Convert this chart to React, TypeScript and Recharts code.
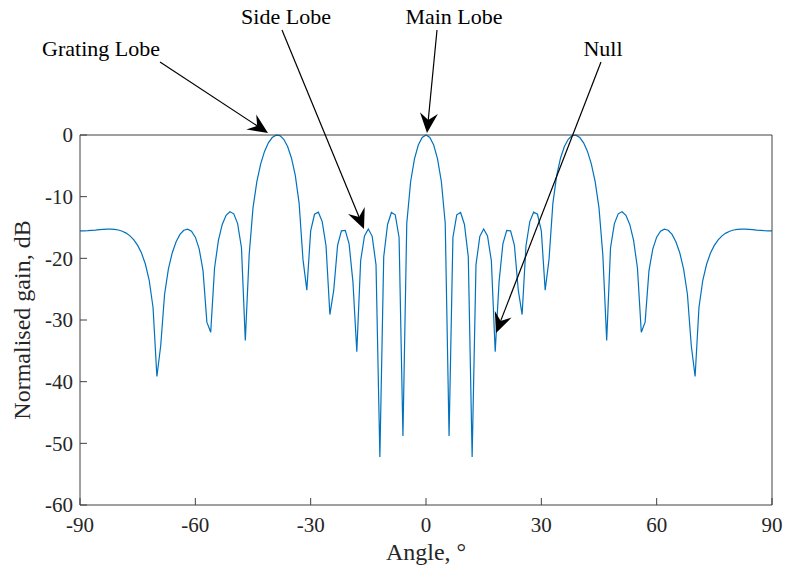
import { LineChart, Line, XAxis, YAxis } from "recharts";

// sampled every degree, -90 .. 90
const angles = [
  -90, -89, -88, -87, -86, -85, -84, -83, -82, -81,
  -80, -79, -78, -77, -76, -75, -74, -73, -72, -71,
  -70, -69, -68, -67, -66, -65, -64, -63, -62, -61,
  -60, -59, -58, -57, -56, -55, -54, -53, -52, -51,
  -50, -49, -48, -47, -46, -45, -44, -43, -42, -41,
  -40, -39, -38, -37, -36, -35, -34, -33, -32, -31,
  -30, -29, -28, -27, -26, -25, -24, -23, -22, -21,
  -20, -19, -18, -17, -16, -15, -14, -13, -12, -11,
  -10, -9, -8, -7, -6, -5, -4, -3, -2, -1,
  0, 1, 2, 3, 4, 5, 6, 7, 8, 9,
  10, 11, 12, 13, 14, 15, 16, 17, 18, 19,
  20, 21, 22, 23, 24, 25, 26, 27, 28, 29,
  30, 31, 32, 33, 34, 35, 36, 37, 38, 39,
  40, 41, 42, 43, 44, 45, 46, 47, 48, 49,
  50, 51, 52, 53, 54, 55, 56, 57, 58, 59,
  60, 61, 62, 63, 64, 65, 66, 67, 68, 69,
  70, 71, 72, 73, 74, 75, 76, 77, 78, 79,
  80, 81, 82, 83, 84, 85, 86, 87, 88, 89,
  90,
];

const gainDb = [
  -15.56, -15.55, -15.52, -15.47, -15.42, -15.35, -15.3, -15.26, -15.26, -15.3,
  -15.41, -15.6, -15.91, -16.36, -17.01, -17.9, -19.15, -20.92, -23.56, -27.97,
  -39.16, -34.13, -25.83, -21.72, -19.09, -17.31, -16.12, -15.45, -15.26, -15.59,
  -16.57, -18.46, -22.0, -30.35, -31.98, -21.57, -17.1, -14.5, -13.02, -12.44,
  -12.78, -14.37, -18.28, -33.33, -19.45, -11.82, -7.55, -4.68, -2.66, -1.27,
  -0.41, -0.02, -0.11, -0.7, -1.86, -3.72, -6.56, -11.09, -20.17, -25.16,
  -15.56, -12.85, -12.52, -14.04, -18.0, -29.12, -25.15, -17.91, -15.54, -15.48,
  -17.66, -23.86, -35.15, -20.39, -16.36, -15.25, -16.43, -21.06, -52.22, -19.77,
  -14.51, -12.56, -12.95, -16.62, -48.81, -14.3, -7.58, -3.86, -1.62, -0.39,
  0, -0.39, -1.62, -3.86, -7.58, -14.3, -48.81, -16.62, -12.95, -12.56,
  -14.51, -19.77, -52.22, -21.06, -16.43, -15.25, -16.36, -20.39, -35.15, -23.86,
  -17.66, -15.48, -15.54, -17.91, -25.15, -29.12, -18.0, -14.04, -12.52, -12.85,
  -15.56, -25.16, -20.17, -11.09, -6.56, -3.72, -1.86, -0.7, -0.11, -0.02,
  -0.41, -1.27, -2.66, -4.68, -7.55, -11.82, -19.45, -33.33, -18.28, -14.37,
  -12.78, -12.44, -13.02, -14.5, -17.1, -21.57, -31.98, -30.35, -22.0, -18.46,
  -16.57, -15.59, -15.26, -15.45, -16.12, -17.31, -19.09, -21.72, -25.83, -34.13,
  -39.16, -27.97, -23.56, -20.92, -19.15, -17.9, -17.01, -16.36, -15.91, -15.6,
  -15.41, -15.3, -15.26, -15.26, -15.3, -15.35, -15.42, -15.47, -15.52, -15.55,
  -15.56,
];

const xTicks = [-90, -60, -30, 0, 30, 60, 90];
const yTicks = [-60, -50, -40, -30, -20, -10, 0];

// text callouts, figure pixels (tail -> tip)
const notes = [
  { text: "Grating Lobe", tx: 101, ty: 56, x1: 160, y1: 62, x2: 268, y2: 133 },
  { text: "Side Lobe", tx: 286, ty: 24, x1: 282, y1: 30, x2: 364, y2: 229 },
  { text: "Main Lobe", tx: 454, ty: 24, x1: 437, y1: 30, x2: 427, y2: 133 },
  { text: "Null", tx: 603, ty: 56, x1: 601, y1: 62, x2: 496, y2: 333 },
];

const rows = angles.map((a, i) => ({ angle: a, gain: gainDb[i] }));

const FONT = "'Liberation Serif', 'Times New Roman', serif";
const AXIS = "#404040";

function Arrow({ x1, y1, x2, y2 }: { x1: number; y1: number; x2: number; y2: number }) {
  const len = Math.hypot(x2 - x1, y2 - y1);
  const ux = (x2 - x1) / len;
  const uy = (y2 - y1) / len;
  const L = 20;
  const W = 9;
  const bx = x2 - ux * L;
  const by = y2 - uy * L;
  const nx = x2 - ux * L * 0.65;
  const ny = y2 - uy * L * 0.65;
  const pts = [
    [x2, y2],
    [bx - uy * W, by + ux * W],
    [nx, ny],
    [bx + uy * W, by - ux * W],
  ]
    .map((p) => p.join(","))
    .join(" ");
  return (
    <g>
      <line x1={x1} y1={y1} x2={nx} y2={ny} stroke="#000" strokeWidth={1.2} />
      <polygon points={pts} fill="#000" />
    </g>
  );
}

export default function App() {
  return (
    <div style={{ position: "absolute", left: 0, top: 0, width: 786, height: 569, background: "#fff" }}>
      <LineChart
        width={786}
        height={569}
        data={rows}
        margin={{ top: 134, right: 0, bottom: 0, left: 0 }}
        style={{ fontFamily: FONT }}
      >
        <XAxis
          xAxisId="b"
          dataKey="angle"
          type="number"
          domain={[-90, 90]}
          ticks={xTicks}
          height={64}
          tickSize={-7}
          tickMargin={19}
          stroke={AXIS}
          tick={{ fill: "#262626", fontSize: 21, fontFamily: FONT }}
          label={{ value: "Angle, °", position: "center", dy: 14, fill: "#262626", fontSize: 24, fontFamily: FONT }}
        />
        <XAxis
          xAxisId="t"
          orientation="top"
          dataKey="angle"
          type="number"
          domain={[-90, 90]}
          ticks={xTicks}
          height={1}
          tickSize={-7}
          tick={false}
          stroke={AXIS}
        />
        <YAxis
          yAxisId="l"
          type="number"
          domain={[-60, 0]}
          ticks={yTicks}
          width={80}
          tickSize={-7}
          tickMargin={14}
          stroke={AXIS}
          tick={{ fill: "#262626", fontSize: 21, fontFamily: FONT }}
          label={{
            value: "Normalised gain, dB",
            angle: -90,
            position: "center",
            dx: -19,
            fill: "#262626",
            fontSize: 24,
            fontFamily: FONT,
          }}
        />
        <YAxis
          yAxisId="r"
          orientation="right"
          type="number"
          domain={[-60, 0]}
          ticks={yTicks}
          width={14}
          tickSize={-7}
          tick={false}
          stroke={AXIS}
        />
        <Line
          xAxisId="b"
          yAxisId="l"
          type="linear"
          dataKey="gain"
          stroke="#0072BD"
          strokeWidth={1.2}
          dot={false}
          isAnimationActive={false}
        />
        <Line
          xAxisId="t"
          yAxisId="r"
          type="linear"
          dataKey="gain"
          stroke="none"
          dot={false}
          legendType="none"
          isAnimationActive={false}
        />
      </LineChart>
      <svg
        width={786}
        height={569}
        style={{ position: "absolute", left: 0, top: 0, pointerEvents: "none" }}
      >
        {notes.map((n) => (
          <g key={n.text}>
            <text x={n.tx} y={n.ty} textAnchor="middle" fontSize={22} fontFamily={FONT} fill="#000">
              {n.text}
            </text>
            <Arrow x1={n.x1} y1={n.y1} x2={n.x2} y2={n.y2} />
          </g>
        ))}
      </svg>
    </div>
  );
}
